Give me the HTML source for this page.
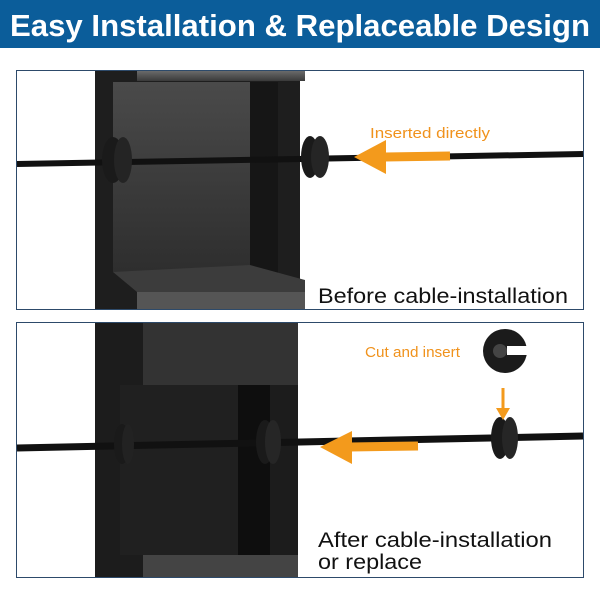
<!DOCTYPE html>
<html><head><style>
body{margin:0;width:600px;height:600px;background:#fff;overflow:hidden;font-family:"Liberation Sans",sans-serif}
</style></head><body>
<svg width="600" height="600" viewBox="0 0 600 600" xmlns="http://www.w3.org/2000/svg">
<defs>
<linearGradient id="ch" x1="0" y1="0" x2="0" y2="1"><stop offset="0" stop-color="#4a4a4a"/><stop offset="1" stop-color="#2e2e2e"/></linearGradient>
<linearGradient id="cap" x1="0" y1="0" x2="0" y2="1"><stop offset="0" stop-color="#6a6a6a"/><stop offset="1" stop-color="#3a3a3a"/></linearGradient>
</defs>
<rect x="0" y="0" width="600" height="48" fill="#0b5d9a"/>
<text x="10" y="36" textLength="580" lengthAdjust="spacingAndGlyphs" fill="#fff" font-size="31" font-weight="bold">Easy Installation &amp; Replaceable Design</text>

<!-- Panel 1 -->
<rect x="16.5" y="70.5" width="567" height="239" fill="#fff" stroke="#2d4a6a"/>
<rect x="95" y="71" width="205" height="238" fill="#1e1e1e"/>
<rect x="137" y="71" width="168" height="10" fill="url(#cap)"/>
<rect x="113" y="82" width="137" height="190" fill="url(#ch)"/>
<rect x="250" y="82" width="28" height="200" fill="#161616"/>
<polygon points="113,272 250,265 305,280 305,292 137,292" fill="#3c3c3c"/>
<rect x="137" y="292" width="168" height="17" fill="#555"/>
<line x1="17" y1="164" x2="583" y2="154" stroke="#111" stroke-width="6"/>
<ellipse cx="113" cy="160" rx="11" ry="23" fill="#1a1a1a"/><ellipse cx="123" cy="160" rx="9" ry="23" fill="#242424"/>
<ellipse cx="310" cy="157" rx="9" ry="21" fill="#1a1a1a"/><ellipse cx="320" cy="157" rx="9" ry="21" fill="#252525"/>
<line x1="450" y1="156" x2="385" y2="157" stroke="#f39a1c" stroke-width="9"/>
<polygon points="354,157 386,140 386,174" fill="#f39a1c"/>
<text x="370" y="138" textLength="120" lengthAdjust="spacingAndGlyphs" fill="#f0921c" font-size="15">Inserted directly</text>
<text x="318" y="303" textLength="250" lengthAdjust="spacingAndGlyphs" fill="#111" font-size="21">Before cable-installation</text>

<!-- Panel 2 -->
<rect x="16.5" y="322.5" width="567" height="255" fill="#fff" stroke="#2d4a6a"/>
<rect x="95" y="323" width="203" height="254" fill="#1c1c1c"/>
<rect x="143" y="323" width="155" height="62" fill="#333"/>
<rect x="120" y="385" width="118" height="170" fill="#202020"/>
<rect x="238" y="385" width="32" height="170" fill="#0e0e0e"/>
<rect x="143" y="555" width="155" height="22" fill="#444"/>
<line x1="17" y1="448" x2="583" y2="436" stroke="#111" stroke-width="7"/>
<ellipse cx="122" cy="444" rx="8" ry="20" fill="#1a1a1a"/><ellipse cx="128" cy="444" rx="6" ry="20" fill="#222"/>
<ellipse cx="265" cy="442" rx="9" ry="22" fill="#1a1a1a"/><ellipse cx="273" cy="442" rx="8" ry="22" fill="#262626"/>
<ellipse cx="500" cy="438" rx="9" ry="21" fill="#1a1a1a"/><ellipse cx="510" cy="438" rx="8" ry="21" fill="#262626"/>
<line x1="418" y1="446" x2="350" y2="447" stroke="#f39a1c" stroke-width="9"/>
<polygon points="320,447 352,431 352,464" fill="#f39a1c"/>
<text x="365" y="357" textLength="95" lengthAdjust="spacingAndGlyphs" fill="#f0921c" font-size="15">Cut and insert</text>
<circle cx="505" cy="351" r="22" fill="#1b1b1b"/>
<circle cx="500" cy="351" r="7" fill="#444"/>
<rect x="507" y="346" width="20" height="9" fill="#fff"/>
<line x1="503" y1="388" x2="503" y2="410" stroke="#f39a1c" stroke-width="3"/>
<polygon points="496,408 510,408 503,420" fill="#f39a1c"/>
<text x="318" y="547" textLength="234" lengthAdjust="spacingAndGlyphs" fill="#111" font-size="21">After cable-installation</text>
<text x="318" y="569" textLength="104" lengthAdjust="spacingAndGlyphs" fill="#111" font-size="21">or replace</text>
</svg>
</body></html>
